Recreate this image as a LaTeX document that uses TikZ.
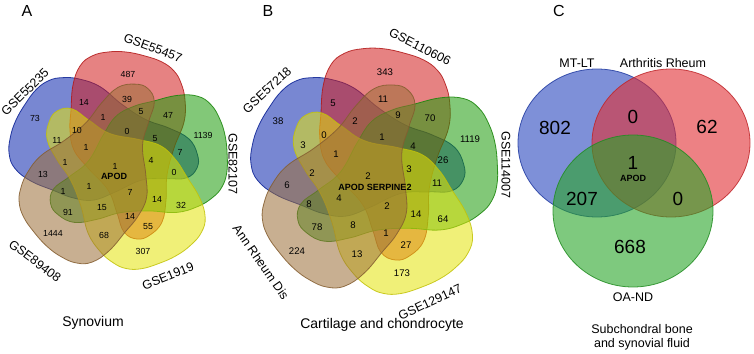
\documentclass[tikz,border=0pt]{standalone}
\usepackage{fontspec}
\setmainfont{Liberation Sans}
\definecolor{vblue}{RGB}{10,37,173}
\definecolor{vred}{RGB}{210,28,28}
\definecolor{vgreen}{RGB}{28,155,10}
\definecolor{vyellow}{RGB}{228,228,10}
\definecolor{vbrown}{RGB}{155,110,55}
\definecolor{cblue}{RGB}{40,70,190}
\definecolor{cred}{RGB}{225,45,50}
\definecolor{cgreen}{RGB}{40,165,40}
\begin{document}
\begin{tikzpicture}[x=1pt, y=-1pt,
    blob/.style={line width=0.8pt, fill opacity=0.55, draw opacity=0.85},
    ring/.style={line width=0.8pt, fill opacity=0.6, draw opacity=0.85},
    setname/.style={font=\fontsize{12.5}{14}\selectfont, inner sep=0pt},
    cntA/.style={font=\fontsize{8.8}{10}\selectfont, inner sep=0pt},
    cntB/.style={font=\fontsize{9.6}{11}\selectfont, inner sep=0pt},
    cntC/.style={font=\fontsize{19}{22}\selectfont, inner sep=0pt},
    gene/.style={font=\fontsize{9}{10}\selectfont\bfseries, inner sep=0pt},
    panel/.style={font=\fontsize{16}{18}\selectfont, inner sep=0pt},
    caption/.style={font=\fontsize{14}{16}\selectfont, inner sep=0pt, align=center}]
    \useasboundingbox (0,0) rectangle (754,353);

    \foreach \cx/\cy/\s in {118/162/1, 374/173/1.13} {
        \foreach \ang/\col in {72/vblue, 0/vred, 288/vgreen, 216/vyellow, 144/vbrown} {
            \begin{scope}[shift={(\cx,\cy)}, scale=\s, rotate=\ang]
                \filldraw[blob, fill=\col, draw=\col!85!black]
                    plot[smooth cycle, tension=0.7] coordinates {
                    (-47,-52) (-45,-77) (-38,-96) (-26,-106) (-10,-110) (8,-110)
                    (27,-106) (44,-100) (56,-91) (63,-79) (67,-62) (66,-40)
                    (56,-14) (49,13) (48,38) (44,60) (32,73) (19,77) (6,70)
                    (-1,51) (-10,28) (-30,6) (-44,-12) (-48,-32)};
            \end{scope}
        }
    }

    \filldraw[ring, fill=cblue, draw=cblue!85!black] (597,143) ellipse [x radius=79pt, y radius=74pt];
    \filldraw[ring, fill=cred, draw=cred!85!black] (671,143) ellipse [x radius=79pt, y radius=74pt];
    \filldraw[ring, fill=cgreen, draw=cgreen!85!black] (633,211) ellipse [x radius=80pt, y radius=76pt];

    \node[panel] (pa) at (27,11) {A};
    \node[panel] (pb) at (268,11) {B};
    \node[panel] (pc) at (559,11) {C};

    \node[setname, rotate=45] (s1) at (25,92) {GSE55235};
    \node[setname, rotate=-20] (s2) at (153,48) {GSE55457};
    \node[setname, rotate=-90] (s3) at (233,164) {GSE82107};
    \node[setname, rotate=22] (s4) at (168,276) {GSE1919};
    \node[setname, rotate=-37] (s5) at (35,261) {GSE89408};

    \node[setname, rotate=43] (t1) at (267,90) {GSE57218};
    \node[setname, rotate=-27] (t2) at (420,47) {GSE110606};
    \node[setname, rotate=-90] (t3) at (506,165) {GSE114007};
    \node[setname, rotate=25] (t4) at (430,302) {GSE129147};
    \node[setname, rotate=-55] (t5) at (261,262) {Ann Rheum Dis};

    \node[setname] (u1) at (577,63) {MT-LT};
    \node[setname] (u2) at (663,63) {Arthritis Rheum};
    \node[setname] (u3) at (633,297) {OA-ND};

    \foreach \x/\y/\t [count=\i] in {35/118/73, 128/74/487, 203/135/1139, 143/251/307,
        53/233/1444, 84/102/14, 127/99/39, 141/112/5, 168/115/47, 103/117/1, 127/131/0,
        155/139/5, 77/130/10, 57/140/11, 86/147/1, 180/152/7, 151/160/4, 65/162/1,
        115/166/1, 43/174/13, 174/172/0, 89/186/1, 63/191/1, 130/192/7, 157/199/14,
        181/205/32, 68/212/91, 102/208/15, 130/216/14, 148/227/55, 104/235/68}
        \node[cntA] (a\i) at (\x,\y) {\t};
    \node[gene] (ga) at (114,176) {APOD};

    \foreach \x/\y/\t [count=\i] in {278/121/38, 385/72/343, 470/139/1119, 402/273/173,
        297/251/224, 333/103/5, 383/99/11, 398/115/9, 430/118/70, 355/121/2, 324/135/0,
        303/145/3, 382/137/1, 413/146/4, 443/160/26, 336/154/1, 312/173/2, 368/176/2,
        409/169/3, 437/183/11, 287/185/6, 339/198/4, 309/204/8, 387/206/2, 416/214/14,
        443/219/64, 317/227/78, 353/225/8, 386/233/1, 406/245/27, 357/254/13}
        \node[cntB] (b\i) at (\x,\y) {\t};
    \node[gene] (gb) at (375,187) {APOD SERPINE2};

    \foreach \x/\y/\t [count=\i] in {555/128/802, 633/117/0, 707/127/62, 633/163/1,
        582/199/207, 678/199/0, 630/247/668}
        \node[cntC] (c\i) at (\x,\y) {\t};
    \node[gene] (gc) at (633,178) {APOD};

    \node[caption] (capa) at (93,323) {Synovium};
    \node[caption] (capb) at (382,325) {Cartilage and chondrocyte};
    \node[caption, font=\fontsize{12.5}{14}\selectfont] (capc) at (642,337)
        {Subchondral bone\\and synovial fluid};
\end{tikzpicture}
\end{document}
